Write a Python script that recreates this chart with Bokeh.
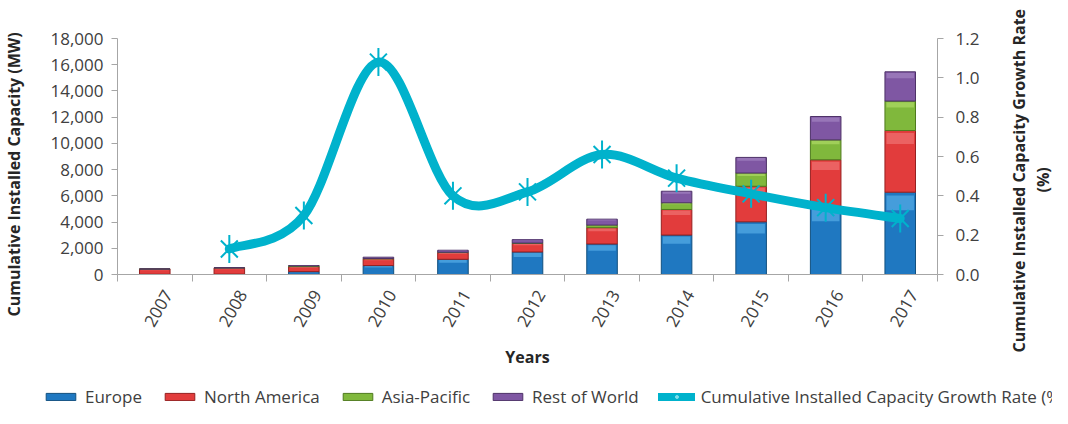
import math
from bokeh.plotting import figure
from bokeh.layouts import row, column
from bokeh.models import (Range1d, LinearAxis, FixedTicker, NumeralTickFormatter,
                          PrintfTickFormatter, Legend, LegendItem, ColumnDataSource, Title)
from bokeh.embed import file_html
from bokeh.resources import INLINE

# ---------------- data ----------------
years = ["2007", "2008", "2009", "2010", "2011", "2012", "2013", "2014", "2015", "2016", "2017"]
europe = [20, 30, 220, 680, 1160, 1720, 2330, 3010, 4020, 5200, 6280]
north_america = [400, 480, 380, 510, 510, 650, 1240, 1950, 2710, 3550, 4700]
asia_pacific = [0, 0, 60, 30, 30, 30, 200, 510, 1010, 1520, 2250]
rest_of_world = [0, 0, 20, 100, 150, 260, 450, 880, 1190, 1780, 2230]
growth_years = ["2008", "2009", "2010", "2011", "2012", "2013", "2014", "2015", "2016", "2017"]
growth_rate = [0.13, 0.30, 1.08, 0.40, 0.42, 0.61, 0.49, 0.41, 0.34, 0.285]
y_ticks = [0, 2000, 4000, 6000, 8000, 10000, 12000, 14000, 16000, 18000]
rate_ticks = [0.0, 0.2, 0.4, 0.6, 0.8, 1.0, 1.2]

series_names = ["Europe", "North America", "Asia-Pacific", "Rest of World"]
line_name = "Cumulative Installed Capacity Growth Rate (%)"
left_title = "Cumulative Installed Capacity (MW)"
right_title_1 = "Cumulative Installed Capacity Growth Rate"
right_title_2 = "(%)"
x_title = "Years"

series_vals = [europe, north_america, asia_pacific, rest_of_world]
main_colors = ["#1F78C1", "#E23C3C", "#80B83C", "#7F57A3"]
light_colors = ["#5FB6EC", "#F27C7C", "#B5DE6C", "#A88AC6"]
edge_colors = ["#12507F", "#962020", "#4F7A1E", "#4E3268"]
line_color = "#00B2CC"

FONT = "Open Sans"
TXT = "#404040"
TITLE_COL = "#262626"

xs = list(range(len(years)))

# ---------------- main figure ----------------
p = figure(frame_width=820, frame_height=236,
           x_range=Range1d(-0.5, len(years) - 0.5), y_range=Range1d(0, 18000),
           output_backend="svg", toolbar_location=None,
           min_border_left=92, min_border_right=57, min_border_top=38, min_border_bottom=106)
p.outline_line_color = None
p.xgrid.visible = False
p.ygrid.visible = False

BW = 0.41
bottoms = [0.0] * len(years)
for name, vals, mc, lc, ec in zip(series_names, series_vals, main_colors, light_colors, edge_colors):
    tops = [b + v for b, v in zip(bottoms, vals)]
    src = ColumnDataSource(dict(x=xs, top=tops, bottom=bottoms))
    p.vbar(x="x", top="top", bottom="bottom", width=BW, source=src,
           fill_color=mc, line_color=ec, line_width=1)
    hl_top = [t - (t - b) * 0.04 for t, b in zip(tops, bottoms)]
    hl_bot = [t - (t - b) * 0.22 for t, b in zip(tops, bottoms)]
    src2 = ColumnDataSource(dict(x=xs, top=hl_top, bottom=hl_bot))
    p.vbar(x="x", top="top", bottom="bottom", width=BW * 0.9, source=src2,
           fill_color=lc, fill_alpha=0.6, line_color=None)
    bottoms = tops

p.extra_y_ranges = {"rate": Range1d(0, 1.2)}
gx = [years.index(y) for y in growth_years]
gy = growth_rate
n = len(gx)
x0, y0, x1, y1, cx0, cy0, cx1, cy1 = [], [], [], [], [], [], [], []
for i in range(n - 1):
    pm = (gx[i - 1], gy[i - 1]) if i > 0 else (gx[i], gy[i])
    pa = (gx[i], gy[i])
    pb = (gx[i + 1], gy[i + 1])
    pn = (gx[i + 2], gy[i + 2]) if i + 2 < n else (gx[i + 1], gy[i + 1])
    x0.append(pa[0]); y0.append(pa[1]); x1.append(pb[0]); y1.append(pb[1])
    cx0.append(pa[0] + (pb[0] - pm[0]) / 6.0); cy0.append(pa[1] + (pb[1] - pm[1]) / 6.0)
    cx1.append(pb[0] - (pn[0] - pa[0]) / 6.0); cy1.append(pb[1] - (pn[1] - pa[1]) / 6.0)
p.bezier(x0=x0, y0=y0, x1=x1, y1=y1, cx0=cx0, cy0=cy0, cx1=cx1, cy1=cy1,
         line_color=line_color, line_width=9, line_cap="round", y_range_name="rate")
p.scatter(x=gx, y=gy, marker="x", size=24, line_color=line_color, line_width=2, y_range_name="rate")
p.scatter(x=gx, y=gy, marker="dash", angle=math.pi / 2, size=28, line_color=line_color,
          line_width=2, y_range_name="rate")

def style_axis(ax):
    ax.axis_line_color = "#A6A6A6"
    ax.major_tick_line_color = "#A6A6A6"
    ax.minor_tick_line_color = "#A6A6A6"
    ax.major_label_text_font = FONT
    ax.major_label_text_font_size = "17px"
    ax.major_label_text_color = TXT
    ax.axis_label_text_font = FONT
    ax.axis_label_text_font_size = "16px"
    ax.axis_label_text_font_style = "bold"
    ax.axis_label_text_color = TITLE_COL

LABEL_SHIFT = 0.18
label_pos = [i + LABEL_SHIFT for i in xs]
xa = p.xaxis[0]
style_axis(xa)
xa.ticker = FixedTicker(ticks=label_pos, minor_ticks=[i - 0.5 for i in range(len(years) + 1)])
xa.major_label_overrides = {lp: y for lp, y in zip(label_pos, years)}
xa.major_label_orientation = math.pi / 3
xa.major_tick_out = 0
xa.major_tick_in = 0
xa.minor_tick_out = 7
xa.minor_tick_in = 0
xa.major_label_standoff = 10
xa.axis_label = x_title
xa.axis_label_standoff = 12

ya = p.yaxis[0]
style_axis(ya)
ya.ticker = FixedTicker(ticks=y_ticks)
ya.formatter = NumeralTickFormatter(format="0,0")
ya.minor_tick_line_color = None
ya.major_tick_out = 6
ya.major_tick_in = 0
ya.major_label_standoff = 8

ra = LinearAxis(y_range_name="rate")
style_axis(ra)
ra.ticker = FixedTicker(ticks=rate_ticks)
ra.formatter = PrintfTickFormatter(format="%.1f")
ra.minor_tick_line_color = None
ra.major_tick_out = 6
ra.major_tick_in = 0
ra.major_label_standoff = 12
p.add_layout(ra, "right")

def side_title(txt, offset):
    return Title(text=txt, align="left", offset=offset, standoff=0,
                 text_font=FONT, text_font_size="16px", text_font_style="bold",
                 text_color=TITLE_COL)

def strip(w):
    f = figure(frame_width=1, width=w, height=380, x_range=Range1d(0, 1), y_range=Range1d(0, 1),
               output_backend="svg", toolbar_location=None, min_border_left=w - 1,
               min_border_right=0, min_border_top=38, min_border_bottom=106)
    f.axis.visible = False
    f.grid.visible = False
    f.outline_line_color = None
    return f

lt = strip(23)
lt.add_layout(side_title(left_title, -42), "left")

rt = strip(60)
rt.add_layout(side_title(right_title_2, 82), "left")
rt.add_layout(side_title(right_title_1, -78), "left")

# ---------------- legend strip ----------------
lg = figure(width=1052, height=28, x_range=Range1d(0, 1), y_range=Range1d(0, 1),
            output_backend="svg", toolbar_location=None, min_border=0)
lg.axis.visible = False
lg.grid.visible = False
lg.outline_line_color = None
items = []
for name, mc, ec in zip(series_names, main_colors, edge_colors):
    r = lg.vbar(x=[5], top=[5], bottom=[4], width=0.1, fill_color=mc, line_color=ec)
    items.append(LegendItem(label=name, renderers=[r]))
ll = lg.line(x=[5, 6], y=[5, 6], line_color=line_color, line_width=8, line_cap="round")
lm1 = lg.scatter(x=[5], y=[5], marker="x", size=14, line_color="#7FDDEA", line_width=2)
lm2 = lg.scatter(x=[5], y=[5], marker="dash", angle=math.pi / 2, size=14,
                 line_color="#7FDDEA", line_width=2)
items.append(LegendItem(label=line_name, renderers=[ll, lm1, lm2]))
legend = Legend(items=items, orientation="horizontal", location=(42, 0),
                glyph_width=37, glyph_height=9, label_standoff=6, spacing=19,
                padding=0, margin=0, border_line_color=None, background_fill_alpha=0,
                label_text_font=FONT, label_text_font_size="17px", label_text_color=TXT)
lg.add_layout(legend, "center")

layout = column(row(lt, p, rt), lg)
open("out.html", "w").write(file_html(layout, INLINE))
